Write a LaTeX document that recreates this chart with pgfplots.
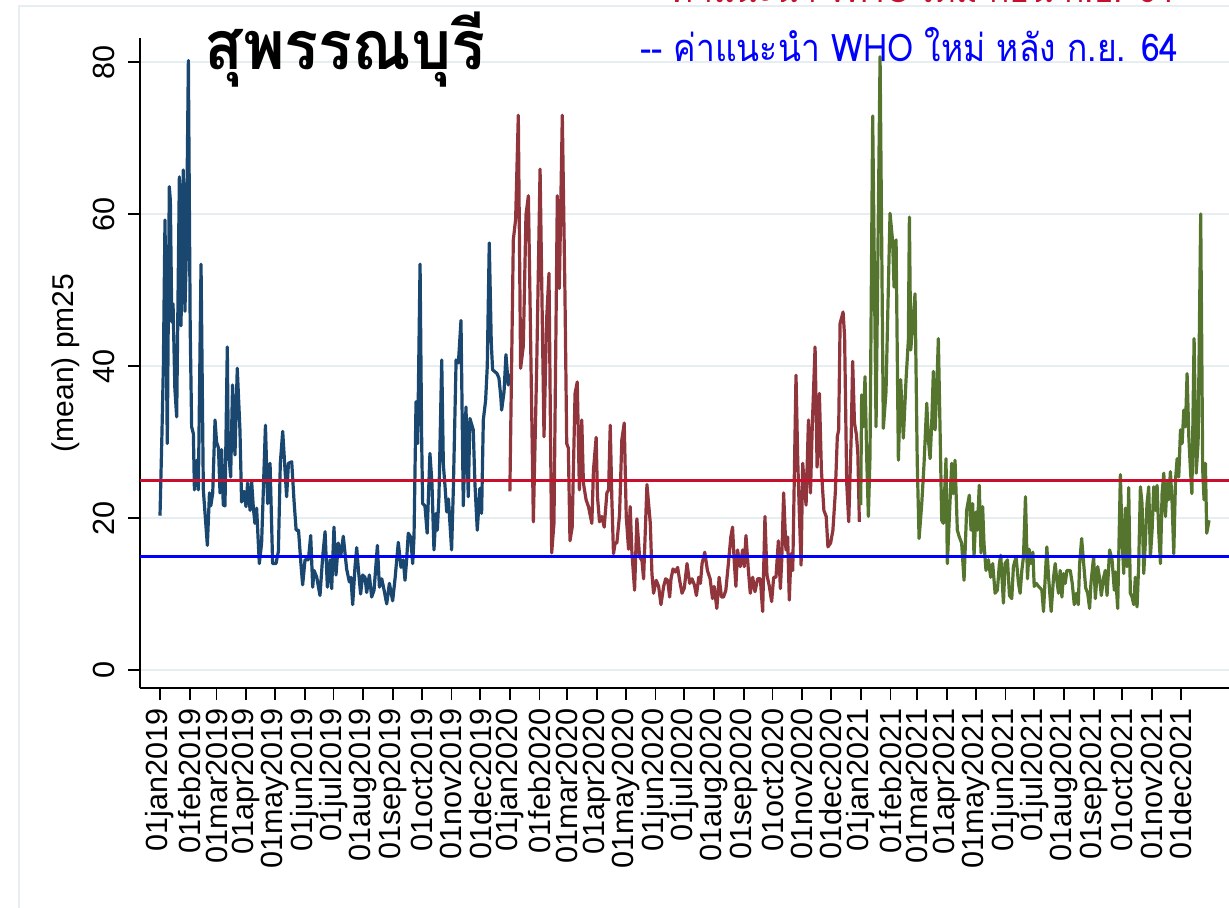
\documentclass[border=0pt]{standalone}
\usepackage{pgfplots}
\pgfplotsset{compat=1.18}
\usepackage{fontspec}
\setmainfont{Liberation Sans}
\newfontfamily\thaifont[Script=Thai]{Loma}
\newfontfamily\thaicond[Script=Thai, FakeStretch=0.885]{Loma}
\newfontfamily\thaititle[Script=Thai, FakeStretch=0.93]{Loma}
\definecolor{snavy}{RGB}{26,71,111}
\definecolor{smaroon}{RGB}{144,53,59}
\definecolor{sgreen}{RGB}{85,117,47}
\definecolor{refred}{RGB}{200,16,46}
\definecolor{refblue}{RGB}{0,0,255}
\definecolor{gridc}{RGB}{230,238,241}
\begin{document}
\begin{tikzpicture}
\useasboundingbox (0,0) rectangle (614.5pt,453.5pt);
\clip (0,0) rectangle (614.5pt,453.5pt);
\draw[gridc, line width=0.8pt] (9.5pt,-5pt) -- (9.5pt,450.5pt) -- (620pt,450.5pt);
\begin{axis}[
  at={(70pt,109.5pt)}, anchor=south west,
  scale only axis, width=547.5pt, height=325pt,
  xmin=-20.87, xmax=1121.5, ymin=-2.37, ymax=83.16,
  axis lines=left, axis line style={-, line width=0.9pt, black},
  tick align=outside, major tick length=6pt,
  tick style={black, line width=0.9pt},
  xtick={0,31,59,90,120,151,181,212,243,273,304,334,365,396,425,456,486,517,547,578,609,639,670,700,731,762,790,821,851,882,912,943,974,1004,1035,1065},
  xticklabels={01jan2019,01feb2019,01mar2019,01apr2019,01may2019,01jun2019,01jul2019,01aug2019,01sep2019,01oct2019,01nov2019,01dec2019,01jan2020,01feb2020,01mar2020,01apr2020,01may2020,01jun2020,01jul2020,01aug2020,01sep2020,01oct2020,01nov2020,01dec2020,01jan2021,01feb2021,01mar2021,01apr2021,01may2021,01jun2021,01jul2021,01aug2021,01sep2021,01oct2021,01nov2021,01dec2021},
  xticklabel style={rotate=90, anchor=east, inner sep=4pt, font=\fontsize{15.3}{15.3}\selectfont},
  ytick={0,20,40,60,80},
  yticklabel style={rotate=90, anchor=south, inner sep=2pt, yshift=4.5pt, font=\fontsize{15.3}{15.3}\selectfont},
  /pgf/number format/assume math mode=true,
  ymajorgrids, major grid style={gridc, line width=1.4pt},
  ylabel={(mean) pm25},
  every axis y label/.style={at={(axis description cs:-0.055,0.5)}, rotate=90, anchor=south, inner sep=0pt, font=\fontsize{15}{15}\selectfont},
  clip=true,
]
\addplot[snavy, line width=1.6pt, line join=round] table {
0 20.3
2 31
3.5 40
5.2 59.2
7.6 29.8
9.7 63.6
10.8 61.8
12.3 45.8
13.6 48.2
15.5 37
17.4 33.3
20.2 64.9
21.9 45.3
24.3 65.8
26 47.2
27.5 55
29.6 80.2
31.5 45
33 32
34.8 31.1
35.9 23.7
38.3 27.6
40 23.7
42.8 53.4
45.2 23.7
49.4 16.4
51.6 23.3
53 21.6
55 23.3
57.4 32.9
59 30
61 29.2
62.6 23.3
64.3 29
66 21.7
67.8 21.6
70.2 42.5
71.2 29.4
73.7 25.4
75.7 37.5
78.2 28.3
80.6 39.7
83.4 31.6
85.1 22.1
87.6 23.5
89.7 21.5
91.4 24.6
94 21
95.6 24.8
97.4 21.3
99 19.3
100.8 21.3
103.6 14
106 16.7
110 32.2
112.3 21.9
114.8 27.2
117.5 14
121 14
123.5 15.6
125.5 27.2
128 31.4
132.1 22.8
134 27.2
137.4 27.4
139.8 22.3
142 18.4
144.5 18.4
147 14
148.8 11.2
151.3 14.5
154.8 14.5
157.2 17.7
159.3 10.9
160.7 13.1
163.5 12.2
166.9 9.8
169.7 14.9
172.2 18.2
174.6 10.9
177.4 14.5
179.1 10.7
181.5 18.8
183.6 12.5
186 16.7
188.5 14.9
191.2 17.6
194.7 13.3
197.5 11.6
199.2 12.2
201 8.6
203.4 13.5
205.2 16.1
206.9 13.3
209.3 10
211.4 12.5
213.9 12.2
215.6 10.2
218.4 12.5
220.8 9.6
223.3 10.5
226.8 16.4
228.9 10.9
231.3 12
233.8 10.5
236.5 8.7
239.3 11.4
242.7 9.1
245.2 12
248.6 16.8
251.4 13.5
253.8 14.5
255.6 11.8
257.3 14.5
259 18
261.5 17.5
263.6 14
265 17.5
267.1 35.3
268.8 29.8
271.3 53.4
273 30
274 21.9
276.4 21.6
278.7 18
281.6 28.5
283.7 24.6
285.8 15.8
287.9 20.6
289.3 18.4
291 22.8
293.9 40.8
295.6 27
297.4 24.1
299.1 20.8
300.9 22.5
304.2 15.8
306 23.7
308.9 40.8
311.3 40.4
314 46
316.4 21.6
319.2 34.6
321.6 22.8
323.3 33.1
326.8 31.6
328.5 24.6
331 18.4
333.7 23.9
335.5 20.6
337.3 32.9
339.7 35.5
341.4 39.9
343.5 56.2
345.6 43
347 39.5
351.6 39
353.6 38.4
355.5 36
356.4 34.2
358.9 36.6
360.9 41.5
363.3 37.5
364 39
};
\addplot[smaroon, line width=1.6pt, line join=round] table {
365 23.5
368.6 56.6
371 59.3
373.8 73
376.2 39.7
379 42.6
381.8 59.9
384.3 62.4
386 48.9
389.5 19.5
393 40
396.5 65.9
400.6 30.7
403.4 46.3
405.8 52.2
408.6 15.4
411 19.3
414.5 62.4
416.6 50.2
419.7 73
422.5 49.1
424.3 29.8
426 29.2
427.7 17
430 18.8
433 36.4
435.3 37.9
437.5 23.7
440 32.9
441.7 24.6
444.5 22.4
447 21.5
450.5 19.3
452.2 26.3
455 30.6
456.4 22.8
458.5 19.5
461 20.2
463.4 18.8
466.2 23.3
468 23.7
469.7 32.2
471.4 22.4
473.1 15.3
474.8 16.7
476.6 16.7
479.4 20.4
481.8 30.3
484.3 32.5
486.4 20.2
488.8 15.9
490.5 21.5
492.3 15.5
495.1 10.5
497.5 19.9
500.3 14.9
502.8 14.4
504.5 12
508 24.4
511.5 19.3
513.2 12.7
514.9 10.1
517.7 11.8
520.2 11
522.6 8.6
525.4 11
527.5 12
529.6 11.8
531.7 9.6
533.1 12
535.2 13.3
537.6 12.9
540 13.5
542.1 11.8
544.6 10.1
547 10.8
549.8 14
552.6 11.4
555 12
557.5 11.2
559.6 9.8
562 12.2
563.8 11.4
565.5 14
568.3 15.5
571.1 13.1
573.9 12
576.4 9.4
578.1 11
580.9 8.1
583.3 12.2
585.8 9.6
587.9 9.6
590.3 10.5
592.8 13.8
595.5 17.5
597.3 18.8
599 14.4
600.8 11
602.5 15.8
605.3 13.6
607.8 15.8
609.5 13.6
611.3 17.7
613.7 13.3
615.8 10.1
618.3 12.2
620.7 10.3
623.5 12
626.3 12
628.7 7.7
631.1 20.2
633.2 12.5
635.7 11
638.1 9
640.2 12.2
642.6 12.2
645.1 17
647.2 10.7
648.6 14.4
650.6 23.3
653 15.8
654.8 17.5
656.5 9.2
658.3 15.3
660.1 13.1
661.8 25.9
663.5 38.8
665.3 27.6
667.1 20.2
668.8 13.8
670.5 27.2
672.3 24.1
674 21.7
676.5 32.9
678.6 23.3
680.5 32.2
683.4 42.5
685.5 26.7
687.9 36.4
690 26.3
692.6 21
695 20.2
696.8 16.2
699.6 16.7
702 18.4
704.5 23.3
706.6 30.7
708 31.6
709.5 45.6
712.6 47.1
714.2 43.9
716.4 24.6
718.5 19.5
721 30.3
722.6 40.6
724.5 32.5
726.5 31
728 28.5
729.6 19.5
};
\addplot[sgreen, line width=1.6pt, line join=round] table {
731 21.7
732 36.2
733.6 32
735.5 38.6
737.3 27.8
739 20.2
740.7 28.1
743.5 72.9
747 32
751.2 80.7
754.6 31.8
757.4 36.6
761.6 60.1
764.3 56.4
765.8 50.4
767.9 56.6
770.3 27.6
772.7 38.2
775.5 30.5
778.3 38.2
780.7 43.4
781.8 59.6
783.2 42.1
787.7 49.5
790 27.2
791.9 17.3
794.7 21.9
797.1 27.2
799.9 35.1
801.6 30.3
803.4 27.8
805.1 32.5
806.8 39.3
808.6 31.6
810.3 36.8
812 43.6
813.8 31.6
815.5 19.7
817.2 19.3
820 27.8
821.4 14
823.5 20.2
825.9 27.2
827.6 23.2
829.4 27.6
831.8 18.4
833.9 17.5
836.3 16.7
838.8 11.8
841.5 21
844.3 23
846.1 18.4
847.8 21.9
849.2 14.9
851.3 20.8
852.7 18.4
854.7 24.3
856.5 15.4
858.2 21.5
859.6 16.7
861.7 13.1
864.2 14.5
866.6 12.2
868.7 14
871.2 10.1
873.6 10.5
875.7 14
877.1 15.1
879.9 8.8
881.6 14
884.1 14.5
886.2 9.8
888.6 9.4
890.3 13.6
893.1 14.9
895.6 11.4
897.3 10.1
899.1 13.1
900.8 14.9
902.9 22.8
905 12
906.7 15.9
908.5 14
910.6 15.5
912 11
914.1 11.4
916.5 11
918.2 10.8
920 10.5
921.7 7.7
923.5 12.2
925.2 16.2
927 12.2
929.7 7.7
932.2 12.2
933.9 14
935.6 11.8
937.4 10.1
939.1 13.1
940.9 9.6
942.6 12.7
944.4 11.4
946.1 13.1
949.6 13.1
951.7 11.4
953.8 8.6
955.9 10.1
958 8.6
959.4 14
961.5 17.3
963.6 14
965.7 10.8
967.8 10.1
969.8 8.1
971.2 11.4
974 14.9
975.8 9.4
978.2 13.6
980.3 12
982 9.8
984.5 12.2
986.2 13.1
988 9.8
990.7 15.8
993.2 14.5
995.6 10.5
996.7 12.9
999.1 8.1
1001.9 25.7
1003.6 17.5
1005.4 12.7
1007.1 21.3
1008.8 13.6
1010.6 24
1012.3 10.1
1014.1 9.6
1015.8 8.6
1017.5 12.2
1019.3 8.3
1021 13.8
1022.8 24.1
1024.5 21.9
1026.3 12.7
1028 17
1029.7 21.9
1031.5 24.1
1033.2 14.9
1035 18.4
1036.7 24.1
1038.5 21
1040.2 24.3
1042 18
1043.7 14
1045.4 23.2
1047.2 25.9
1048.9 20.2
1050.7 24.6
1052.4 22.4
1054.1 26.1
1055.9 21.9
1057.6 15.3
1059.4 25
1061.1 27.8
1062.8 25.4
1064.6 31.6
1066.3 29.8
1068.1 34.2
1069.8 32
1071.5 39
1073.3 30.7
1075 26.3
1076.5 23.2
1078.8 43.6
1081 25.9
1083 30
1085.7 60
1087.8 26.3
1089.2 22.4
1090.6 27.2
1092 18
1094.4 19.7
};
\addplot[refred, line width=1.5pt] coordinates {(-20.87,25) (1121.5,25)};
\addplot[refblue, line width=1.5pt] coordinates {(-20.87,15) (1121.5,15)};
\end{axis}
\node[anchor=base, inner sep=0pt, font=\thaititle\bfseries\fontsize{34}{34}\selectfont] at (172.5pt,418.5pt) {สุพรรณบุรี};
\node[anchor=base east, inner sep=0pt, text=refblue, font=\thaicond\fontsize{19}{19}\selectfont] at (589.5pt,422.5pt) {-{}- ค่าแนะนำ WHO ใหม่ หลัง ก.ย. 64};
\node[anchor=base east, inner sep=0pt, text=refred, font=\thaicond\fontsize{19}{19}\selectfont] at (588pt,452pt) {-{}- ค่าแนะนำ WHO เดิม ก่อน ก.ย. 64};
\end{tikzpicture}
\end{document}
